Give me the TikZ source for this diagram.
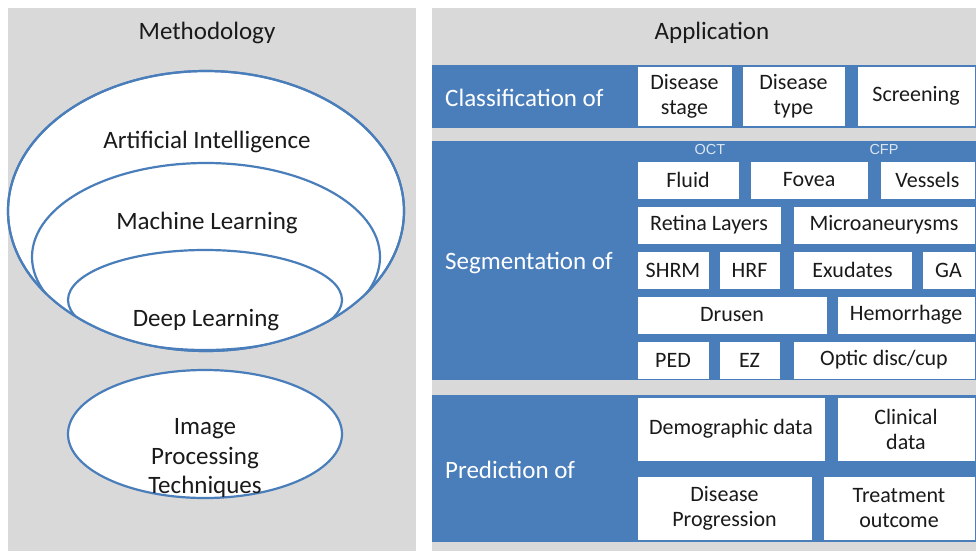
\documentclass[tikz,border=0pt]{standalone}
\usepackage{fontspec}
\setmainfont{Carlito}
\newfontfamily\arialf{Liberation Sans}
\usetikzlibrary{shapes.geometric}
\definecolor{panelgray}{HTML}{D9D9D9}
\definecolor{bandblue}{HTML}{4A7EBB}
\definecolor{txt}{HTML}{1A1A1A}
\definecolor{subtxt}{HTML}{DCE6F2}
\begin{document}
\begin{tikzpicture}[x=1pt,y=-1pt,
  bx/.style={fill=white, draw=bandblue, line width=0.8pt, inner sep=0pt, align=center, text=txt, font=\fontsize{22}{25}\selectfont},
  ellline/.style={draw=bandblue, line width=2.2pt},
  lbl/.style={text=white, anchor=west, inner sep=0pt, font=\fontsize{25}{28}\selectfont},
  ttl/.style={text=txt, inner sep=0pt, align=center, font=\fontsize{25}{29.5}\selectfont},
  sub/.style={text=subtxt, inner sep=0pt, font=\arialf\fontsize{14.5}{17}\selectfont}]
\useasboundingbox (0,0) rectangle (976,551);
\fill[white] (0,0) rectangle (976,551);
% panels
\fill[panelgray] (8,8) rectangle (416,551);
\fill[panelgray] (432,8) rectangle (976,551);
% ---------- left panel ----------
\node[ttl] (meth) at (207,33) {Methodology};
\filldraw[fill=white, ellline] (206,211) ellipse [x radius=198pt, y radius=140pt];
\begin{scope}
  \clip (206,211) ellipse [x radius=198pt, y radius=140pt];
  \filldraw[fill=white, ellline] (206,257) ellipse [x radius=174pt, y radius=94pt];
  \filldraw[fill=white, ellline] (205,300) ellipse [x radius=137pt, y radius=50pt];
\end{scope}
\draw[ellline] (206,211) ellipse [x radius=198pt, y radius=140pt];
\filldraw[fill=white, ellline] (205,434) ellipse [x radius=137pt, y radius=64pt];
\node[ttl] (ai) at (207,142) {Artificial Intelligence};
\node[ttl] (ml) at (207,223) {Machine Learning};
\node[ttl] (dl) at (206,320) {Deep Learning};
\node[ttl] (ipt) at (205,458) {Image\\Processing\\Techniques};
% ---------- right panel ----------
\node[ttl] (app) at (712,33) {Application};
\fill[bandblue] (432,65) rectangle (976,128);
\fill[bandblue] (432,141) rectangle (976,380);
\fill[bandblue] (432,395) rectangle (976,542);
\node[lbl] (cls) at (445,98) {Classification of};
\node[lbl] (seg) at (445,263) {Segmentation of};
\node[lbl] (pred) at (445,470) {Prediction of};
% classification
\node[bx, minimum width=95pt, minimum height=60pt] (dstage) at (684.5,96) {Disease\\stage};
\node[bx, minimum width=103pt, minimum height=60pt] (dtype) at (793.5,96) {Disease\\type};
\node[bx, minimum width=118pt, minimum height=60pt] (screen) at (916,96) {Screening};
% segmentation
\node[sub] (oct) at (710,150) {OCT};
\node[sub] (cfp) at (884,150) {CFP};
\node[bx, minimum width=102pt, minimum height=38pt] (fluid) at (688,180) {Fluid};
\node[bx, minimum width=118pt, minimum height=38pt] (fovea) at (809,180) {Fovea};
\node[bx, minimum width=95pt, minimum height=38pt] (vessels) at (927.5,180) {Vessels};
\node[bx, minimum width=144pt, minimum height=38pt] (retina) at (709,225) {Retina Layers};
\node[bx, minimum width=182pt, minimum height=38pt] (micro) at (884,225) {Microaneurysms};
\node[bx, minimum width=72pt, minimum height=38pt] (shrm) at (673,270) {SHRM};
\node[bx, minimum width=61pt, minimum height=38pt] (hrf) at (749.5,270) {HRF};
\node[bx, minimum width=119pt, minimum height=38pt] (exud) at (852.5,270) {Exudates};
\node[bx, minimum width=53pt, minimum height=38pt] (ga) at (948.5,270) {GA};
\node[bx, minimum width=190pt, minimum height=38pt] (drusen) at (732,315) {Drusen};
\node[bx, minimum width=138pt, minimum height=38pt] (hemo) at (906,315) {Hemorrhage};
\node[bx, minimum width=72pt, minimum height=38pt] (ped) at (673,360) {PED};
\node[bx, minimum width=61pt, minimum height=38pt] (ez) at (749.5,360) {EZ};
\node[bx, minimum width=182pt, minimum height=38pt] (optic) at (884,360) {Optic disc/cup};
% prediction
\node[bx, minimum width=188pt, minimum height=64pt] (demo) at (731,429) {Demographic data};
\node[bx, minimum width=138pt, minimum height=64pt] (clin) at (906,429) {Clinical\\data};
\node[bx, minimum width=175pt, minimum height=64pt] (prog) at (724.5,508) {Disease\\Progression};
\node[bx, minimum width=152pt, minimum height=64pt] (treat) at (899,508) {Treatment\\outcome};
\end{tikzpicture}
\end{document}
